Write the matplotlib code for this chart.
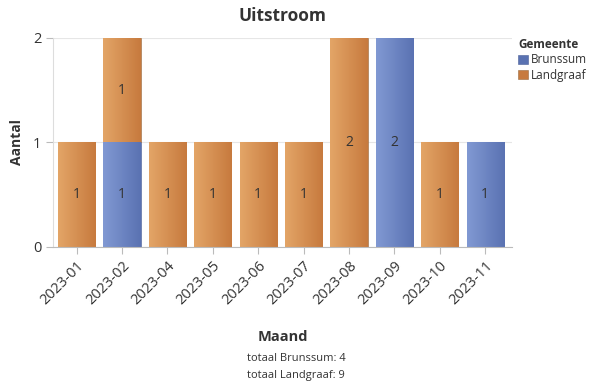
import numpy as np
import matplotlib.pyplot as plt
from matplotlib.colors import LinearSegmentedColormap

plt.rcParams['font.family'] = ['Open Sans', 'DejaVu Sans']

# data
maanden = ['2023-01', '2023-02', '2023-04', '2023-05', '2023-06',
           '2023-07', '2023-08', '2023-09', '2023-10', '2023-11']
brunssum = [0, 1, 0, 0, 0, 0, 0, 2, 0, 1]
landgraaf = [1, 1, 1, 1, 1, 1, 2, 0, 1, 0]
gemeenten = ['Brunssum', 'Landgraaf']

kleuren = {'Brunssum': ('#8199d3', '#5a72b2'), 'Landgraaf': ('#e3a567', '#c77a3e')}
tekst = '#333333'

fig = plt.figure(figsize=(5.92, 3.87), dpi=100)
ax = fig.add_axes([0.0895, 0.362, 0.776, 0.54])

x = np.arange(len(maanden))
breedte = 0.82
grad = np.linspace(0, 1, 64).reshape(1, -1)

bodem = np.zeros(len(maanden))
for naam, waarden in zip(gemeenten, [brunssum, landgraaf]):
    c1, c2 = kleuren[naam]
    cmap = LinearSegmentedColormap.from_list(naam, [c1, c2])
    bars = ax.bar(x, waarden, breedte, bottom=bodem, color=c2,
                  edgecolor='#9a6a40' if naam == 'Landgraaf' else '#4a5f99',
                  linewidth=0.4, label=naam, zorder=2)
    for b, w in zip(bars, waarden):
        if w == 0:
            continue
        x0, y0 = b.get_x(), b.get_y()
        im = ax.imshow(grad, cmap=cmap, aspect='auto', zorder=2.5,
                       extent=[x0, x0 + b.get_width(), y0, y0 + b.get_height()])
        im.set_clip_path(b)
        ax.text(x0 + b.get_width() / 2, y0 + w / 2, str(w), ha='center',
                va='center', fontsize=10, color=tekst, zorder=3)
    bodem += np.array(waarden)

ax.set_xlim(-0.52, 9.6)
ax.set_ylim(0, 2)
ax.set_yticks([0, 1, 2])
ax.set_xticks(x)
ax.set_xticklabels(maanden, rotation=45, ha='right', rotation_mode='anchor',
                   fontsize=10.5, color=tekst)
ax.tick_params(axis='y', labelsize=10.5, labelcolor=tekst, length=5, color='#bbbbbb')
ax.tick_params(axis='x', length=5, color='#bbbbbb')
ax.grid(axis='y', color='#e6e6e6', linewidth=0.8, zorder=0)
for s in ['top', 'right']:
    ax.spines[s].set_visible(False)
ax.spines['left'].set_color('#dddddd')
ax.spines['bottom'].set_color('#bbbbbb')

ax.set_title('Uitstroom', fontsize=12.5, fontweight='bold', color=tekst, pad=12)
ax.set_ylabel('Aantal', fontsize=10, fontweight='bold', color=tekst)
ax.yaxis.set_label_coords(-0.064, 0.5)
ax.set_xlabel('Maand', fontsize=10.5, fontweight='bold', color=tekst)
ax.xaxis.set_label_coords(0.5, -0.40)

leg = ax.legend(title='Gemeente', loc='upper left', bbox_to_anchor=(0.995, 1.04),
                frameon=False, fontsize=8.5, title_fontsize=8.5,
                handlelength=0.8, handleheight=0.8, handletextpad=0.3,
                labelspacing=0.2, borderaxespad=0.3)
leg.get_title().set_fontweight('bold')
leg.get_title().set_color(tekst)
leg._legend_box.align = 'left'
for t in leg.get_texts():
    t.set_color(tekst)

fig.text(0.5, 0.067, 'totaal Brunssum: %d' % sum(brunssum), ha='center',
         fontsize=8, color=tekst)
fig.text(0.5, 0.022, 'totaal Landgraaf: %d' % sum(landgraaf), ha='center',
         fontsize=8, color=tekst)

fig.savefig('out.png', dpi=100)
